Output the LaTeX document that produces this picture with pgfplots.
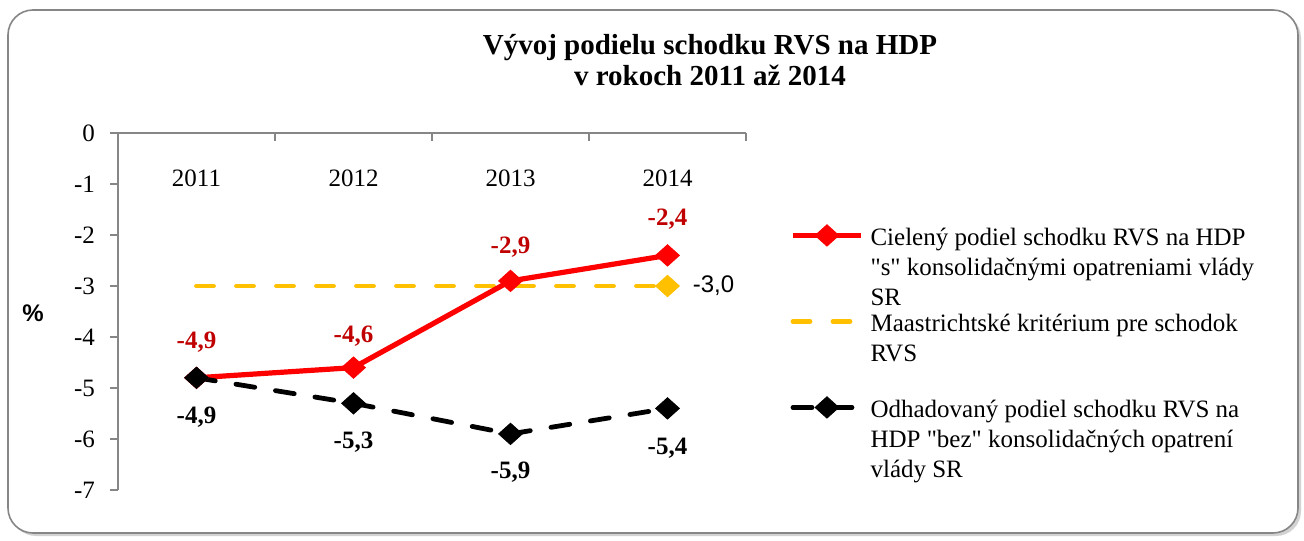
\documentclass[border=0pt]{standalone}
\usepackage{fontspec}
\setmainfont{Liberation Serif}[Ligatures=TeXOff]
\setsansfont{Liberation Sans}
\usepackage{pgfplots}
\pgfplotsset{compat=1.18}
\usetikzlibrary{shadows}
\definecolor{cred}{HTML}{FF0000}
\definecolor{clab}{HTML}{C00000}
\definecolor{cyel}{HTML}{FFC000}
\definecolor{caxis}{HTML}{868686}
\begin{document}
\begin{tikzpicture}[x=1pt,y=1pt]
\path[use as bounding box] (0,0) rectangle (652,270);
\draw[caxis, line width=0.8pt, rounded corners=12.5pt, fill=white, drop shadow={shadow xshift=1.5pt, shadow yshift=-1.5pt, fill=black!35}] (4,3.5) rectangle (649,265);
\node[align=center, font=\bfseries\fontsize{14.5}{15.5}\selectfont] at (355,239.75) {Vývoj podielu schodku RVS na HDP\\v rokoch 2011 až 2014};
\begin{axis}[
 at={(59pt,25pt)}, anchor=south west, scale only axis, width=314pt, height=178.5pt,
 xmin=-0.5, xmax=3.5, ymin=-7, ymax=0,
 axis x line*=top, axis y line*=left,
 axis line style={caxis, line width=0.8pt},
 tick align=inside, major tick length=4pt,
 tick style={caxis, line width=0.8pt},
 xtick={0.5,1.5,2.5,3.5}, xticklabels={,,,},
 extra x ticks={0,1,2,3}, extra x tick labels={2011,2012,2013,2014},
 extra x tick style={major tick length=0pt},
 xticklabel style={anchor=center, yshift=-22.5pt},
 ytick={-7,-6,...,0},
 ytick style={xshift=-4pt},
 yticklabel style={xshift=-8pt},
 /pgf/number format/assume math mode=true,
 tick label style={font=\fontsize{12.5}{15}\selectfont},
 clip=false,
 legend style={draw=none, fill=none, at={(axis description cs:1.07,0.745)}, anchor=north west, inner sep=0pt, row sep=1pt, column sep=3.5pt, nodes={inner sep=0pt, align=left, font=\fontsize{12.5}{15}\selectfont}},
 legend cell align=left,
 legend image code/.code={\draw[mark repeat=2,mark phase=2,#1] plot coordinates {(0pt,15.5pt) (17pt,15.5pt) (34pt,15.5pt)};},
]
\addplot[forget plot, cyel, line width=2.4pt, line cap=round, dash pattern=on 8.5pt off 11.5pt, mark=square*, mark size=4.2pt, mark options={solid, line width=0.4pt, yscale=0.9, rotate=45}, mark indices={4}] coordinates {(0,-3) (1,-3) (2,-3) (3,-3)};
\addplot[cred, line width=2.6pt, mark=square*, mark size=4.2pt, mark options={solid, line width=0.4pt, yscale=0.9, rotate=45}] coordinates {(0,-4.8) (1,-4.6) (2,-2.9) (3,-2.4)};
\addlegendentry{\strut Cielený podiel schodku RVS na HDP\\\strut "s" konsolidačnými opatreniami vlády\\\strut SR}
\addlegendimage{cyel, line width=2.4pt, line cap=round, dash pattern=on 8.5pt off 11.5pt}
\addlegendentry{\strut Maastrichtské kritérium pre schodok\\\strut RVS\\\strut}
\addplot[black, line width=2.4pt, line cap=round, dash pattern=on 9.5pt off 10.5pt, mark=square*, mark size=4.2pt, mark options={solid, line width=0.4pt, yscale=0.9, rotate=45}] coordinates {(0,-4.8) (1,-5.3) (2,-5.9) (3,-5.4)};
\addlegendentry{\strut Odhadovaný podiel schodku RVS na\\\strut HDP "bez" konsolidačných opatrení\\\strut vlády SR}
\begin{scope}[every node/.style={font=\bfseries\fontsize{12.5}{15}\selectfont}]
\node[text=clab] at (axis cs:0,-4.10) {-4,9};
\node[text=clab] at (axis cs:1,-3.98) {-4,6};
\node[text=clab] at (axis cs:2,-2.245) {-2,9};
\node[text=clab] at (axis cs:3,-1.69) {-2,4};
\node at (axis cs:0,-5.58) {-4,9};
\node at (axis cs:1,-6.06) {-5,3};
\node at (axis cs:2,-6.65) {-5,9};
\node at (axis cs:3,-6.18) {-5,4};
\end{scope}
\node[font=\sffamily\fontsize{12}{14}\selectfont, anchor=west, inner sep=0pt] at ([xshift=12.5pt]axis cs:3,-3) {-3,0};
\node[font=\sffamily\bfseries\fontsize{12}{14}\selectfont] at ([xshift=-42.5pt]axis description cs:0,0.496) {\%};
\end{axis}
\end{tikzpicture}
\end{document}
